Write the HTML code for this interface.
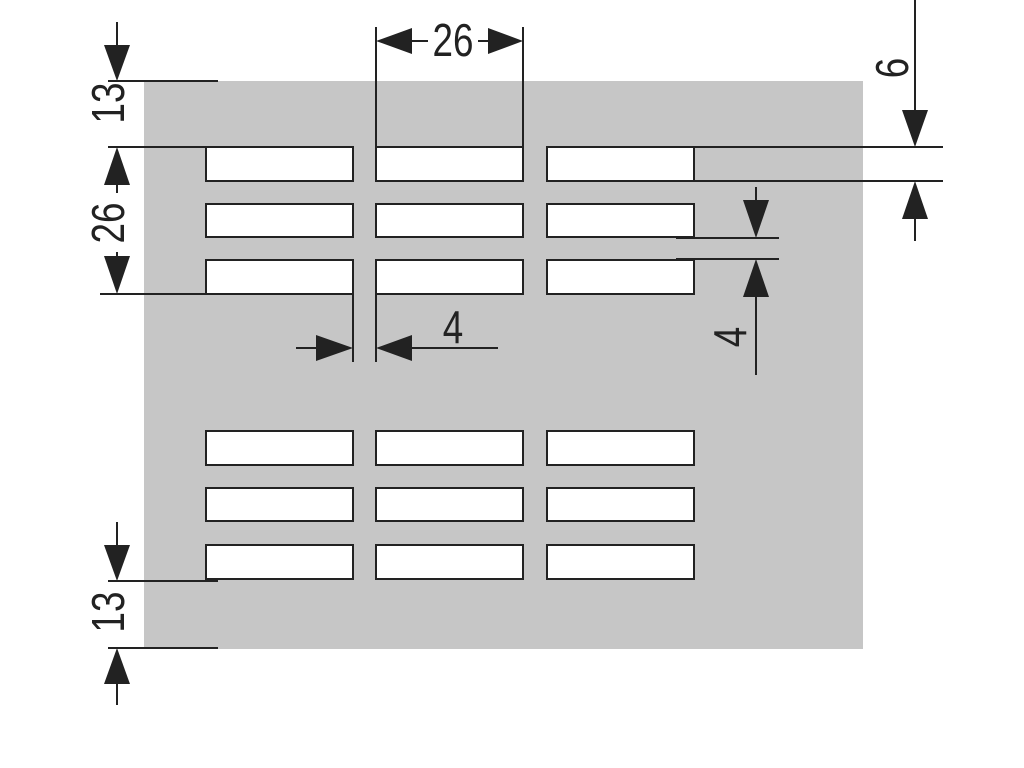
<!DOCTYPE html>
<html><head><style>html,body{margin:0;padding:0;background:#fff}svg{display:block}</style></head>
<body>
<svg width="1024" height="768" viewBox="0 0 1024 768" xmlns="http://www.w3.org/2000/svg" font-family="Liberation Sans, sans-serif" font-size="46" fill="#222">
<rect x="144" y="81" width="719" height="568" fill="#c6c6c6"/>
<g fill="#fff" stroke="#222" stroke-width="2">
<rect x="206" y="147" width="147" height="34"/><rect x="376" y="147" width="147" height="34"/><rect x="547" y="147" width="147" height="34"/>
<rect x="206" y="204" width="147" height="33"/><rect x="376" y="204" width="147" height="33"/><rect x="547" y="204" width="147" height="33"/>
<rect x="206" y="260" width="147" height="34"/><rect x="376" y="260" width="147" height="34"/><rect x="547" y="260" width="147" height="34"/>
<rect x="206" y="431" width="147" height="34"/><rect x="376" y="431" width="147" height="34"/><rect x="547" y="431" width="147" height="34"/>
<rect x="206" y="488" width="147" height="33"/><rect x="376" y="488" width="147" height="33"/><rect x="547" y="488" width="147" height="33"/>
<rect x="206" y="545" width="147" height="34"/><rect x="376" y="545" width="147" height="34"/><rect x="547" y="545" width="147" height="34"/>
</g>
<g stroke="#222" stroke-width="2" fill="none">
<line x1="117" y1="22" x2="117" y2="60"/><line x1="108" y1="81" x2="218" y2="81"/>
<line x1="108" y1="147" x2="206" y2="147"/><line x1="117" y1="185" x2="117" y2="193"/>
<line x1="117" y1="252" x2="117" y2="260"/><line x1="100" y1="294" x2="212" y2="294"/>
<line x1="117" y1="522" x2="117" y2="560"/><line x1="108" y1="581" x2="218" y2="581"/>
<line x1="108" y1="648" x2="218" y2="648"/><line x1="117" y1="670" x2="117" y2="705"/>
<line x1="376" y1="27" x2="376" y2="160"/><line x1="523" y1="27" x2="523" y2="160"/>
<line x1="412" y1="41" x2="428" y2="41"/><line x1="478" y1="41" x2="488" y2="41"/>
<line x1="353" y1="260" x2="353" y2="362"/><line x1="376" y1="294" x2="376" y2="362"/>
<line x1="296" y1="348" x2="316" y2="348"/><line x1="412" y1="348" x2="498" y2="348"/>
<line x1="680" y1="147" x2="943" y2="147"/><line x1="680" y1="181" x2="943" y2="181"/>
<line x1="915" y1="0" x2="915" y2="112"/><line x1="915" y1="217" x2="915" y2="241"/>
<line x1="676" y1="238" x2="779" y2="238"/><line x1="676" y1="259" x2="779" y2="259"/>
<line x1="756" y1="187" x2="756" y2="202"/><line x1="756" y1="295" x2="756" y2="375"/>
</g>
<g fill="#222">
<polygon points="117,81 104,45 130,45"/>
<polygon points="117,147 104,185 130,185"/>
<polygon points="117,294 104,256 130,256"/>
<polygon points="117,581 104,545 130,545"/>
<polygon points="117,648 104,684 130,684"/>
<polygon points="376,41 412,28 412,54"/>
<polygon points="523,41 488,28 488,54"/>
<polygon points="353,348 316,335 316,361"/>
<polygon points="376,348 412,335 412,361"/>
<polygon points="915,147 902,110 928,110"/>
<polygon points="915,181 902,219 928,219"/>
<polygon points="756,238 743,200 769,200"/>
<polygon points="756,259 743,297 769,297"/>
</g>
<g>
<text transform="translate(453,56) scale(0.8,1)" text-anchor="middle">26</text>
<text transform="translate(453,343) scale(0.8,1)" text-anchor="middle">4</text>
<text transform="translate(124,103) rotate(-90) scale(0.8,1)" text-anchor="middle">13</text>
<text transform="translate(124,223) rotate(-90) scale(0.8,1)" text-anchor="middle">26</text>
<text transform="translate(124,612) rotate(-90) scale(0.8,1)" text-anchor="middle">13</text>
<text transform="translate(908,68) rotate(-90) scale(0.8,1)" text-anchor="middle">6</text>
<text transform="translate(746,337) rotate(-90) scale(0.8,1)" text-anchor="middle">4</text>
</g>
</svg>
</body></html>
